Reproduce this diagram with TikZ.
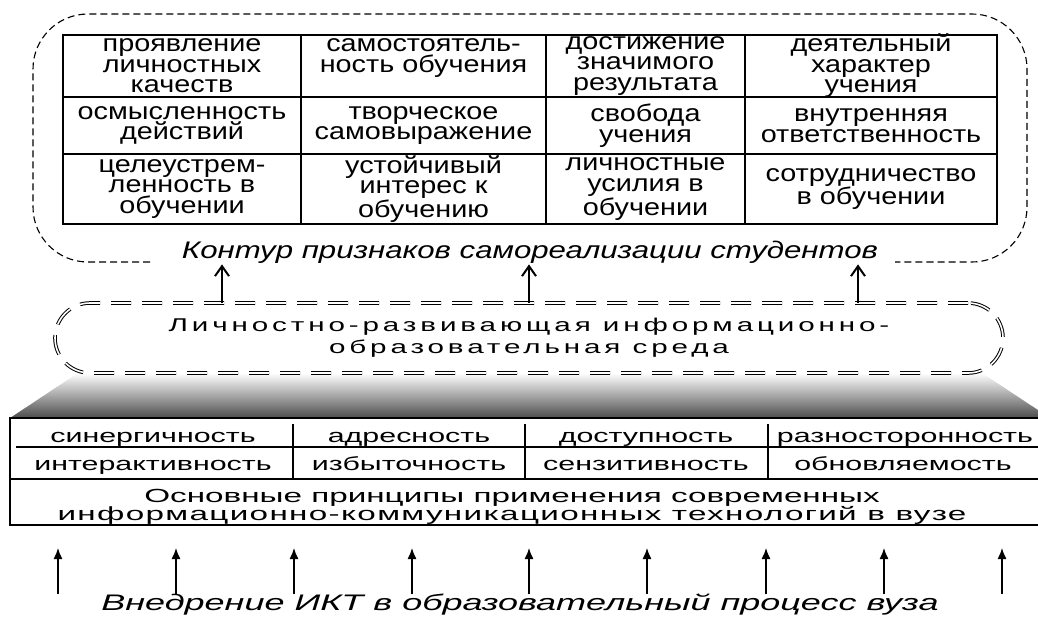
\documentclass[tikz,border=0pt]{standalone}
\usepackage{fontspec}
\setmainfont{Liberation Sans}
\newfontfamily\signfont{Liberation Sans}[FakeStretch=1.2]
\newfontfamily\capfont{Liberation Sans}[FakeStretch=1.3]
\newfontfamily\envfont{Liberation Sans}[FakeStretch=1.6,LetterSpace=21]
\newfontfamily\basefont{Liberation Sans}[FakeStretch=1.6]
\newfontfamily\widefont{Liberation Sans}[FakeStretch=1.75]
\newfontfamily\spreadfont{Liberation Sans}[FakeStretch=1.75,LetterSpace=7]
\usetikzlibrary{positioning,calc,arrows.meta}
\tikzset{
  sign/.style={draw, line width=2pt, inner xsep=0, inner ysep=-4pt,
    outer sep=0, align=center,
    font=\signfont\fontsize{24}{20.5}\selectfont},
  principle/.style={inner sep=0, anchor=base,
    font=\basefont\fontsize{19}{19}\selectfont},
  env/.style={draw, double, double distance=1.6pt, line width=1pt,
    dash pattern=on 20pt off 11pt, rounded corners=35, minimum width=948,
    minimum height=70, align=center,
    font=\envfont\fontsize{18.5}{22}\selectfont},
  outline/.style={line width=1.1pt, dash pattern=on 7pt off 4pt,
    rounded corners=55},
  grid/.style={line width=1.5pt},
  rise/.style={line width=2pt, -{Straight Barb[length=10pt,width=14pt]}},
  push/.style={line width=1.3pt, -{Latex[length=11pt,width=9pt]}},
}

\begin{document}
\begin{tikzpicture}[x=1pt, y=-1pt]
  \useasboundingbox (0,0) rectangle (1038,621);

  % signs of self-realisation
  \node[sign, minimum width=238, minimum height=62, anchor=north west]
    (s11) at (63,35) {проявление\\личностных\\качеств};
  \node[sign, minimum width=245, minimum height=62, right=0 of s11]
    (s12) {самостоятель-\\ность обучения\\\mbox{}};
  \node[sign, minimum width=199, minimum height=62, right=0 of s12]
    (s13) {достижение\\значимого\\результата};
  \node[sign, minimum width=252, minimum height=62, right=0 of s13]
    (s14) {деятельный\\характер\\учения};

  \node[sign, minimum width=238, minimum height=57, below=0 of s11]
    (s21) {осмысленность\\действий};
  \node[sign, minimum width=245, minimum height=57, right=0 of s21]
    (s22) {творческое\\самовыражение};
  \node[sign, minimum width=199, minimum height=57, right=0 of s22]
    (s23) {свобода\\учения};
  \node[sign, minimum width=252, minimum height=57, right=0 of s23]
    (s24) {внутренняя\\ответственность};

  \node[sign, minimum width=238, minimum height=70, below=0 of s21]
    (s31) {целеустрем-\\ленность в\\обучении};
  \node[sign, minimum width=245, minimum height=70, right=0 of s31]
    (s32) {устойчивый\\интерес к\\обучению};
  \node[sign, minimum width=199, minimum height=70, right=0 of s32]
    (s33) {личностные\\усилия в\\обучении};
  \node[sign, minimum width=252, minimum height=70, right=0 of s33]
    (s34) {сотрудничество\\в обучении};

  \node[font=\capfont\itshape\fontsize{24}{24}\selectfont, inner sep=1]
    (contour) at (530,252) {Контур признаков самореализации студентов};
  \draw[outline] (150,262) -| (33,14) -| (1027,262) -- (895,262);

  % environment
  \shade[top color=white, bottom color=black!70]
    (78,373) -- (982,373) -- (1050,418) -- (10,418) -- cycle;
  \node[env] (env) at (529,338)
    {Личностно-развивающая информационно-\\образовательная среда};

  \coordinate (r1) at (222,0);
  \coordinate (r2) at (529,0);
  \coordinate (r3) at (858,0);
  \draw[rise] (env.north -| r1) -- (contour.south -| r1);
  \draw[rise] (env.north -| r2) -- (contour.south -| r2);
  \draw[rise] (env.north -| r3) -- (contour.south -| r3);

  % principles
  \draw[grid] (10,418) rectangle (1045,525);
  \draw[grid] (16,447) -- (1045,447);
  \draw[grid] (10,479) -- (1045,479);
  \draw[grid] (293,424) -- (293,480);
  \draw[grid] (525,424) -- (525,480);
  \draw[grid] (768,424) -- (768,480);

  \node[principle] (p11) at (153,442) {синергичность};
  \node[principle] (p12) at (409,442) {адресность};
  \node[principle] (p13) at (646,442) {доступность};
  \node[principle] (p14) at (905,442) {разносторонность};
  \node[principle] (p21) at (153,470) {интерактивность};
  \node[principle] (p22) at (409,470) {избыточность};
  \node[principle] (p23) at (646,470) {сензитивность};
  \node[principle] (p24) at (903,470) {обновляемость};
  \node[inner sep=0, align=center, font=\widefont\fontsize{19}{18.5}\selectfont]
    (basis) at (512,507)
    {Основные принципы применения современных\\
     {\spreadfont информационно-коммуникационных технологий в вузе}};

  % ICT
  \node[font=\basefont\itshape\fontsize{22.5}{22.5}\selectfont, inner sep=0]
    (ikt) at (520,605) {Внедрение ИКТ в образовательный процесс вуза};
  \coordinate (b1) at (58,548);
  \coordinate (b2) at (176,548);
  \coordinate (b3) at (294,548);
  \coordinate (b4) at (412,548);
  \coordinate (b5) at (529,548);
  \coordinate (b6) at (647,548);
  \coordinate (b7) at (766,548);
  \coordinate (b8) at (884,548);
  \coordinate (b9) at (1002,548);
  \draw[push] (ikt.north -| b1) -- (b1);
  \draw[push] (ikt.north -| b2) -- (b2);
  \draw[push] (ikt.north -| b3) -- (b3);
  \draw[push] (ikt.north -| b4) -- (b4);
  \draw[push] (ikt.north -| b5) -- (b5);
  \draw[push] (ikt.north -| b6) -- (b6);
  \draw[push] (ikt.north -| b7) -- (b7);
  \draw[push] (ikt.north -| b8) -- (b8);
  \draw[push] (ikt.north -| b9) -- (b9);
\end{tikzpicture}
\end{document}
